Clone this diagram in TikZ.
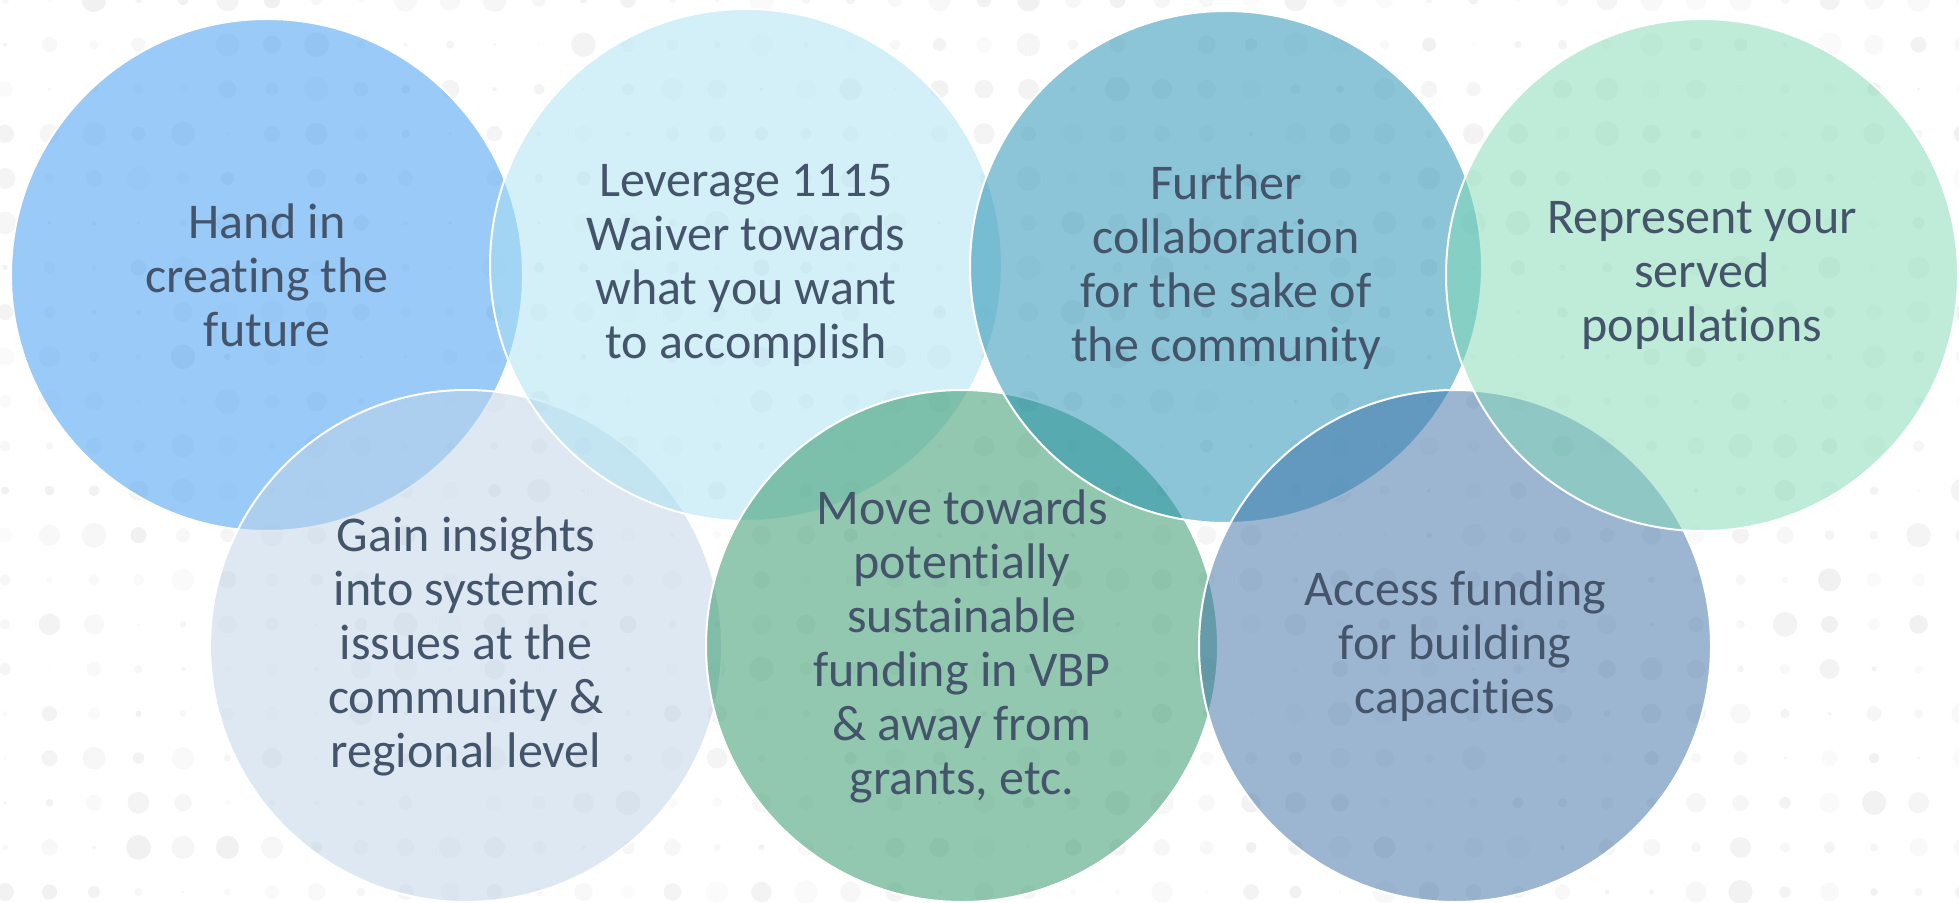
\documentclass[tikz,border=0pt]{standalone}
\usepackage{fontspec}
\setmainfont{Carlito}[Ligatures={NoCommon,NoContextual}]
\definecolor{ink}{RGB}{68,84,106}
\definecolor{cA}{RGB}{55,151,241}
\definecolor{cB}{RGB}{169,225,241}
\definecolor{cC}{RGB}{27,141,177}
\definecolor{cD}{RGB}{129,217,181}
\definecolor{cE}{RGB}{191,211,233}
\definecolor{cF}{RGB}{39,147,97}
\definecolor{cG}{RGB}{59,111,167}
\begin{document}
\begin{tikzpicture}[x=0.5pt,y=-0.5pt,
  bubble/.style={circle, minimum size=256pt, inner sep=0pt, draw=white,
    line width=1pt, fill opacity=0.5, draw opacity=1},
  lbl/.style={align=center, text=ink, font=\fontsize{25}{27}\selectfont}]
% canvas
\fill[white] (0,0) rectangle (1959,903);
\useasboundingbox (0,0) rectangle (1959,903);
% faint dotted backdrop
\pgfmathsetseed{42}
\foreach \i in {0,...,44}{
  \foreach \j in {0,...,20}{
    \pgfmathsetmacro\rr{0.6+5.6*rnd}
    \pgfmathsetmacro\gg{1.5+4*rnd}
    \fill[black!\gg] (5+44.5*\i, 44.6*\j) circle[radius=\rr pt];
  }
}
% overlapping bubbles, drawn in zig-zag order
\node[bubble, fill=cA] (b1) at (267,275) {};
\node[bubble, fill=cE] (b5) at (466,646) {};
\node[bubble, fill=cB] (b2) at (746,265) {};
\node[bubble, fill=cF] (b6) at (962,646) {};
\node[bubble, fill=cC] (b3) at (1226,267) {};
\node[bubble, fill=cG] (b7) at (1455,646) {};
\node[bubble, fill=cD] (b4) at (1702,275) {};
% captions
\node[lbl] (t1) at (b1.center) {Hand in\\creating the\\future};
\node[lbl] (t2) at (b2.center) {Leverage 1115\\Waiver towards\\what you want\\to accomplish};
\node[lbl] (t3) at (b3.center) {Further\\collaboration\\for the sake of\\the community};
\node[lbl] (t4) at (b4.center) {Represent your\\served\\populations};
\node[lbl] (t5) at (b5.center) {Gain insights\\into systemic\\issues at the\\community \&\\regional level};
\node[lbl] (t6) at (b6.center) {Move towards\\potentially\\sustainable\\funding in VBP\\\& away from\\grants, etc.};
\node[lbl] (t7) at (b7.center) {Access funding\\for building\\capacities};
\end{tikzpicture}
\end{document}
